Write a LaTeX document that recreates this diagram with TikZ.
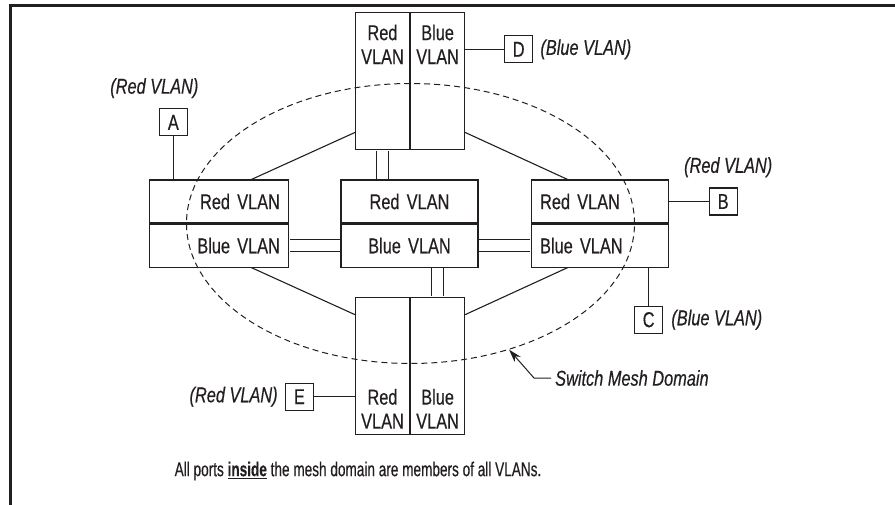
\documentclass[tikz,border=0pt]{standalone}
\usepackage{fontspec}
\setmainfont[FakeStretch=0.76, FakeBold=0.4]{Liberation Sans}
\newfontfamily\notefont[FakeStretch=0.68, FakeBold=0.4]{Liberation Sans}
\usepackage{xcolor}
\usetikzlibrary{shapes.geometric, arrows.meta, positioning}
\definecolor{ink}{HTML}{231F20}
\tikzset{
	swhalf/.style={rectangle, draw=ink, line width=1.1pt, minimum height=43pt,
		inner xsep=9pt, inner ysep=0pt, text=ink, font=\fontsize{21.5}{25}\selectfont},
	lefthalf/.style={swhalf, text width=121pt, align=right},
	midhalf/.style={swhalf, text width=119pt, align=center},
	righthalf/.style={swhalf, text width=119pt, align=left},
	column/.style={rectangle, draw=ink, line width=1.1pt, minimum width=54pt,
		minimum height=137pt, inner sep=0pt},
	colhead/.style={align=center, inner sep=0pt, text=ink,
		font=\fontsize{21.5}{24}\selectfont},
	port/.style={rectangle, draw=ink, line width=1.1pt, minimum width=28pt,
		minimum height=27pt, inner sep=0pt, text=ink, font=\fontsize{21.5}{24}\selectfont},
	vlannote/.style={inner sep=0pt, text=ink, font=\fontsize{21.5}{24}\selectfont\itshape},
	link/.style={draw=ink, line width=1.1pt},
	trunk/.style={draw=ink, double, double distance=10.9pt, line width=1.1pt,
		shorten <=0.55pt, shorten >=0.55pt},
	meshdomain/.style={ellipse, draw=ink, line width=1pt, dash pattern=on 6pt off 4pt,
		minimum width=448pt, minimum height=280pt, inner sep=0pt},
	pointer/.style={draw=ink, line width=1pt, -{Stealth[length=13pt, width=8pt]}}
}

\begin{document}
\begin{tikzpicture}[x=1pt, y=-1pt]
	\useasboundingbox (0,0) rectangle (895,505);
	\draw[ink, line width=3pt] (895,5.3) -- (10.5,5.3) -- (10.5,505);

	% middle row of switches
	\node[midhalf] (mr) at (409.5,201.5) {Red VLAN};
	\node[midhalf, below=0pt of mr] (mb) {Blue VLAN};
	\node[lefthalf, left=51pt of mr] (lr) {Red VLAN};
	\node[lefthalf, below=0pt of lr] (lb) {Blue VLAN};
	\node[righthalf, right=52pt of mr] (rr) {Red VLAN};
	\node[righthalf, below=0pt of rr] (rb) {Blue VLAN};

	% top and bottom switches
	\node[column, above=29pt of mr, xshift=-27pt] (tr) {};
	\node[column, right=0pt of tr] (tb) {};
	\node[colhead, below=12pt of tr.north] (trtext) {Red\\VLAN};
	\node[colhead, below=12pt of tb.north] (tbtext) {Blue\\VLAN};
	\node[column, below=29pt of mb, xshift=-27pt] (br) {};
	\node[column, right=0pt of br] (bb) {};
	\node[colhead, above=6pt of br.south] (brtext) {Red\\VLAN};
	\node[colhead, above=6pt of bb.south] (bbtext) {Blue\\VLAN};

	% mesh domain
	\node[meshdomain] (mesh) at (410.5,223.5) {};

	% end ports
	\node[port, above=43pt of lr.north west, xshift=24pt] (A) {A};
	\node[vlannote, above=10pt of A, xshift=-19pt] (Anote) {(Red VLAN)};
	\node[port, right=40pt of rr] (B) {B};
	\node[vlannote, above=10pt of B, xshift=5pt] (Bnote) {(Red VLAN)};
	\node[port, below=38pt of rb.south east, xshift=-20pt] (C) {C};
	\node[vlannote, right=8pt of C] (Cnote) {(Blue VLAN)};
	\node[port, right=39pt of tb.north east, anchor=west, yshift=-37pt] (D) {D};
	\node[vlannote, right=7pt of D] (Dnote) {(Blue VLAN)};
	\node[port, left=41pt of br.west, yshift=-31pt] (E) {E};
	\node[vlannote, left=7pt of E] (Enote) {(Red VLAN)};

	\draw[link] (A) -- (A |- lr.north);
	\draw[link] (rr.east |- B) -- (B);
	\draw[link] (C) -- (C |- rb.south);
	\draw[link] (D) -- (D -| tb.east);
	\draw[link] (E) -- (E -| br.west);

	% mesh links
	\draw[link] ([yshift=18pt]tr.south west) -- ([xshift=-38pt]lr.north east);
	\draw[link] ([yshift=18pt]tb.south east) -- ([xshift=37pt]rr.north west);
	\draw[link] ([xshift=-38pt]lb.south east) -- ([yshift=-18pt]br.north west);
	\draw[link] ([xshift=37pt]rb.south west) -- ([yshift=-18pt]bb.north east);
	\draw[trunk] (tr.south) -- (tr.south |- mr.north);
	\draw[trunk] (bb.north) -- (bb.north |- mb.south);
	\draw[trunk] (lb.east) -- (mb.west);
	\draw[trunk] (mb.east) -- (rb.west);

	\node[vlannote, anchor=west] (smd) at (555,378) {Switch Mesh Domain};
	\draw[pointer] ([xshift=-4pt]smd.west) -- ++(-17pt,0) -- (mesh.-52);

	\node[inner sep=0pt, text=ink, font=\notefont\fontsize{20}{24}\selectfont] (note) at (358,471)
	{All ports \underline{\textbf{inside}} the mesh domain are members of all VLANs.};
\end{tikzpicture}
\end{document}
